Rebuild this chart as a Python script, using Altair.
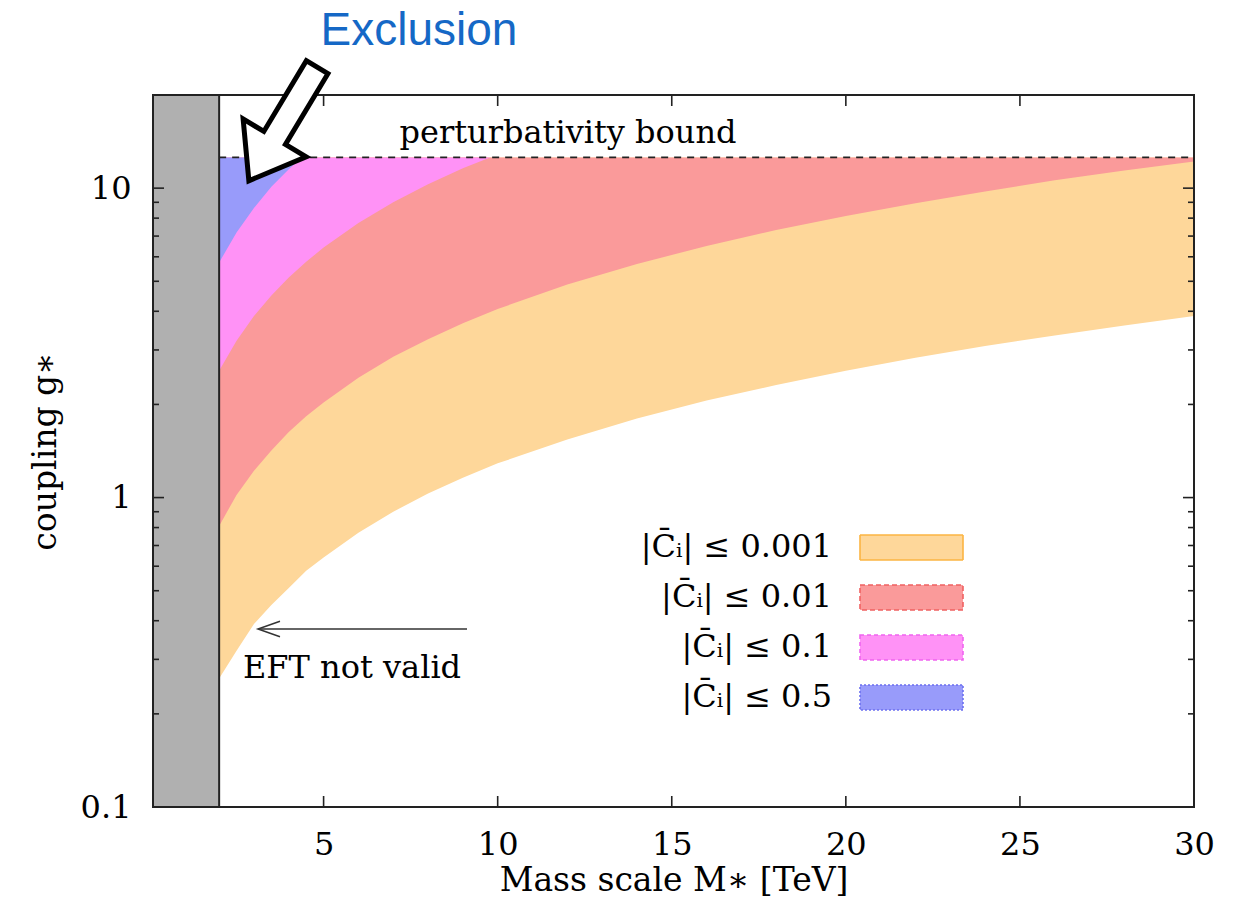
import altair as alt
import pandas as pd

# ---------------- data ----------------
M_EFT = 2.0            # EFT validity limit [TeV]
PERT_BOUND = 12.57     # perturbativity bound on g*
X_DOMAIN = [0.1, 30]
Y_DOMAIN = [0.1, 20]

mass = [2, 2.5, 3, 3.5, 4, 4.5, 5, 6, 7, 8, 9, 10, 12, 14, 16, 18, 20, 22, 24, 26, 28, 30]
g_c0001 = [0.26, 0.32, 0.39, 0.45, 0.51, 0.58, 0.64, 0.77, 0.90, 1.03, 1.16, 1.29,
           1.54, 1.80, 2.06, 2.31, 2.57, 2.83, 3.09, 3.34, 3.60, 3.86]
g_c001 = [0.81, 1.02, 1.22, 1.42, 1.63, 1.83, 2.03, 2.44, 2.85, 3.25, 3.66, 4.07,
          4.88, 5.69, 6.50, 7.32, 8.13, 8.94, 9.76, 10.6, 11.4, 12.2]
mass_c01 = [2, 2.5, 3, 3.5, 4, 4.5, 5, 6, 7, 8, 9, 9.78]
g_c01 = [2.57, 3.21, 3.86, 4.50, 5.14, 5.78, 6.43, 7.71, 9.00, 10.3, 11.6, 12.57]
mass_c05 = [2, 2.5, 3, 3.5, 4, 4.37]
g_c05 = [5.75, 7.19, 8.62, 10.1, 11.5, 12.57]

legend_labels = ["|C̄ᵢ| ≤ 0.001", "|C̄ᵢ| ≤ 0.01", "|C̄ᵢ| ≤ 0.1", "|C̄ᵢ| ≤ 0.5"]

x_ticks = [5, 10, 15, 20, 25, 30]
y_major = [0.1, 1, 10]
y_minor = [0.2, 0.3, 0.4, 0.5, 0.6, 0.7, 0.8, 0.9, 2, 3, 4, 5, 6, 7, 8, 9]

# ---------------- styles ----------------
W, H = 1041, 712
SERIF = "DejaVu Serif"
fills = ["#FED79A", "#FA9A9A", "#FF92F6", "#989BFA"]
strokes = ["#FCB543", "#F06262", "#F064F0", "#6C70F0"]
dashes = [[1, 0], [5, 3], [4, 3], [2, 2]]

xs = alt.Scale(domain=X_DOMAIN, nice=False, zero=False)
ys = alt.Scale(type="log", domain=Y_DOMAIN, nice=False)

XAX = alt.Axis(values=x_ticks, ticks=False, tickSize=0, domain=False, grid=False,
               labelPadding=22, labelFontSize=32, labelFont=SERIF, labelColor="black",
               title="Mass scale M∗ [TeV]", titleFont=SERIF, titleFontSize=33,
               titleFontWeight="normal", titleColor="black", titleY=73,
               titleBaseline="middle", labelFlush=False)
YAX = alt.Axis(values=y_major, format="~g", ticks=False, tickSize=0, domain=False,
               grid=False, labelPadding=22, labelFontSize=32, labelFont=SERIF,
               labelColor="black", title="coupling g∗", titleFont=SERIF,
               titleFontSize=33, titleFontWeight="normal", titleColor="black",
               titleX=-108, titleY=H / 2, titleAngle=-90, titleAlign="center",
               titleBaseline="middle", labelFlush=False)


def X(field):
    return alt.X(field, scale=xs, axis=XAX)


def Y(field):
    return alt.Y(field, scale=ys, axis=YAX)


one = pd.DataFrame({"a": [0]})


def band(m, low, color):
    df = pd.DataFrame({"m": m, "lo": low, "hi": [PERT_BOUND] * len(m)})
    return alt.Chart(df).mark_area(color=color, opacity=1).encode(
        x=X("m:Q"), y=Y("lo:Q"), y2="hi:Q")


layers = [
    band(mass, g_c0001, fills[0]),
    band(mass, g_c001, fills[1]),
    band(mass_c01, g_c01, fills[2]),
    band(mass_c05, g_c05, fills[3]),
]

# grey "EFT not valid" region
grey_df = pd.DataFrame({"m0": [X_DOMAIN[0]], "m1": [M_EFT], "g0": [Y_DOMAIN[0]], "g1": [Y_DOMAIN[1]]})
layers.append(alt.Chart(grey_df).mark_rect(color="#B0B0B0", opacity=1).encode(
    x=X("m0:Q"), x2="m1:Q", y=Y("g0:Q"), y2="g1:Q"))
layers.append(alt.Chart(grey_df).mark_rule(color="#222", strokeWidth=2).encode(
    x=X("m1:Q"), y=Y("g0:Q"), y2="g1:Q"))

# perturbativity bound
pb_df = pd.DataFrame({"m0": [M_EFT], "m1": [X_DOMAIN[1]], "g": [PERT_BOUND]})
layers.append(alt.Chart(pb_df).mark_rule(color="#222", strokeWidth=1.6, strokeDash=[7, 6]).encode(
    x=X("m0:Q"), x2="m1:Q", y=Y("g:Q")))

# inward ticks
xt = pd.DataFrame({"m": x_ticks})
ymj = pd.DataFrame({"g": y_major})
ymn = pd.DataFrame({"g": y_minor})
tick_style = dict(color="#222", strokeWidth=1.6)
layers += [
    alt.Chart(xt).mark_rule(**tick_style).encode(
        x=X("m:Q"), y=alt.value(H), y2=alt.value(H - 11)),
    alt.Chart(xt).mark_rule(**tick_style).encode(
        x=X("m:Q"), y=alt.value(0), y2=alt.value(11)),
    alt.Chart(ymj).mark_rule(**tick_style).encode(
        y=Y("g:Q"), x=alt.value(0), x2=alt.value(11)),
    alt.Chart(ymj).mark_rule(**tick_style).encode(
        y=Y("g:Q"), x=alt.value(W), x2=alt.value(W - 11)),
    alt.Chart(ymn).mark_rule(**tick_style).encode(
        y=Y("g:Q"), x=alt.value(0), x2=alt.value(6)),
    alt.Chart(ymn).mark_rule(**tick_style).encode(
        y=Y("g:Q"), x=alt.value(W), x2=alt.value(W - 6)),
]

# frame
layers.append(alt.Chart(one).mark_rect(fillOpacity=0, stroke="#222", strokeWidth=2).encode(
    x=alt.value(0), x2=alt.value(W), y=alt.value(0), y2=alt.value(H)))

# annotations
layers.append(alt.Chart(one).mark_text(text="perturbativity bound", font=SERIF, fontSize=32,
                                        align="center", baseline="alphabetic", color="black").encode(
    x=alt.value(415), y=alt.value(48)))
layers.append(alt.Chart(one).mark_text(text="EFT not valid", font=SERIF, fontSize=32,
                                        align="left", baseline="alphabetic", color="black").encode(
    x=alt.value(90), y=alt.value(583)))
layers.append(alt.Chart(one).mark_rule(color="#333", strokeWidth=1.5).encode(
    x=alt.value(106), x2=alt.value(314), y=alt.value(534)))
layers.append(alt.Chart(one).mark_point(shape="M1,-0.7L-1,0L1,0.7", size=484, filled=False,
                                         stroke="#333", strokeWidth=1.5, opacity=1).encode(
    x=alt.value(116), y=alt.value(534)))

# "Exclusion" callout with hollow block arrow
arrow_path = "M-0.19,-1L0.19,-1L0.19,0.245L0.555,0.245L0,1L-0.555,0.245L-0.19,0.245Z"
layers.append(alt.Chart(one).mark_point(shape=arrow_path, size=17556, angle=31, filled=True,
                                         fill="white", stroke="black", strokeWidth=5,
                                         strokeJoin="miter", opacity=1, fillOpacity=1,
                                         strokeOpacity=1).encode(
    x=alt.value(130), y=alt.value(29)))
layers.append(alt.Chart(one).mark_text(text="Exclusion", font="Liberation Sans", fontSize=46,
                                        align="center", baseline="alphabetic", color="#1568C6").encode(
    x=alt.value(266), y=alt.value(-50)))

# legend
row_y = [452, 502, 552, 602]
for lab, fc, sc, dsh, yy in zip(legend_labels, fills, strokes, dashes, row_y):
    layers.append(alt.Chart(one).mark_text(text=lab, font=SERIF, fontSize=32, align="right",
                                            baseline="middle", color="black").encode(
        x=alt.value(679), y=alt.value(yy)))
    layers.append(alt.Chart(one).mark_rect(fill=fc, stroke=sc, strokeWidth=1.6, strokeDash=dsh,
                                            opacity=1).encode(
        x=alt.value(707), x2=alt.value(810), y=alt.value(yy - 12), y2=alt.value(yy + 13)))

chart = alt.layer(*layers).properties(
    width=W, height=H,
    autosize=alt.AutoSizeParams(type="none"),
    padding={"left": 153, "top": 95, "right": 42, "bottom": 116},
).configure_view(stroke=None).configure(background="white")

chart.save("out.html", embed_options={"renderer": "svg", "actions": False})
